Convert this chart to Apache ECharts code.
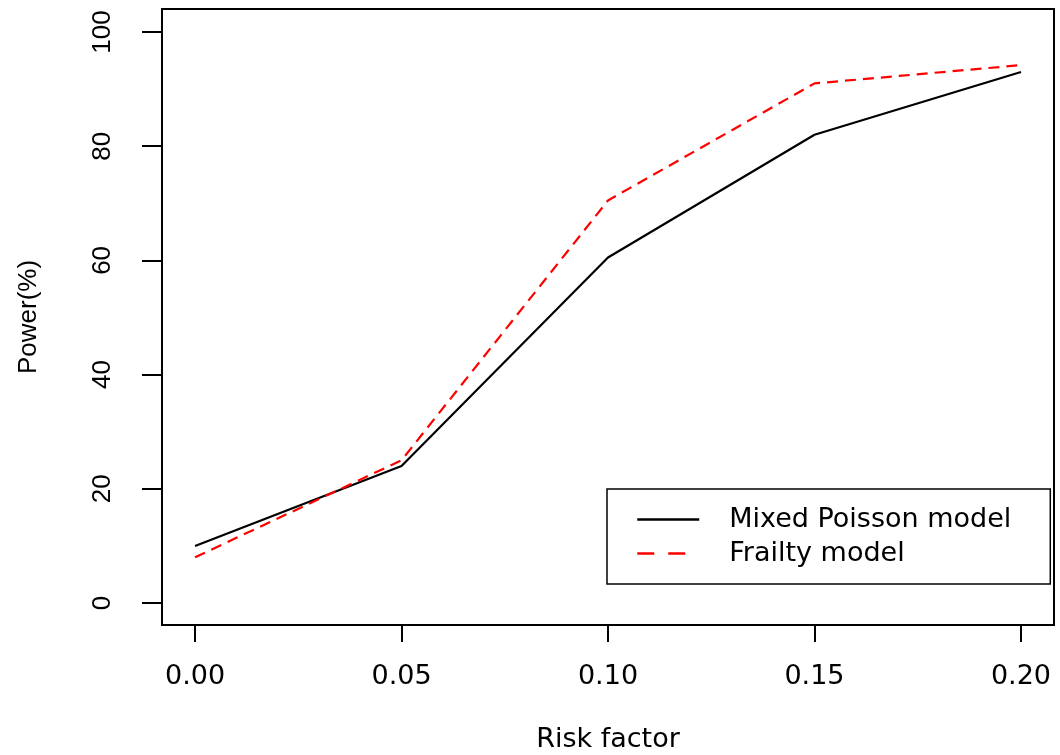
<!DOCTYPE html>
<html>
<head>
<meta charset="utf-8">
<script src="https://cdn.jsdelivr.net/npm/echarts@6/dist/echarts.min.js"></script>
<style>html,body{margin:0;padding:0;background:#fff;}#c{width:1060px;height:755px;}</style>
</head>
<body>
<div id="c"></div>
<script>
const riskFactor = [0.00, 0.05, 0.10, 0.15, 0.20];
const mixedPoisson = [10, 24, 60.5, 82, 93];
const frailty = [8, 25, 70.5, 91, 94.2];
const xTicks = [0.00, 0.05, 0.10, 0.15, 0.20];
const yTicks = [0, 20, 40, 60, 80, 100];
const seriesNames = ['Mixed Poisson model', 'Frailty model'];

const hFont = 'DejaVu Sans';
const vFont = 'Liberation Sans';

const chart = echarts.init(document.getElementById('c'));
chart.setOption({
  animation: false,
  backgroundColor: '#fff',
  grid: {left: 162, right: 6, top: 9, bottom: 130, containLabel: false, outerBoundsMode: 'none',
    show: true, borderColor: '#000', borderWidth: 2, backgroundColor: 'transparent'},
  xAxis: {
    type: 'value', min: -0.008, max: 0.208,
    name: 'Risk factor', nameLocation: 'middle', nameGap: 101,
    nameTextStyle: {fontFamily: hFont, fontSize: 27, color: '#000'},
    axisLine: {show: false, onZero: false},
    splitLine: {show: false},
    axisTick: {show: true, length: 17, inside: false, customValues: xTicks, lineStyle: {color: '#000', width: 2}},
    axisLabel: {customValues: xTicks, margin: 38, fontFamily: hFont, fontSize: 27, color: '#000',
      formatter: v => v.toFixed(2)}
  },
  yAxis: {
    type: 'value', min: -3.85, max: 104.03,
    name: 'Power(%)', nameLocation: 'middle', nameGap: 120, nameRotate: 90,
    nameTextStyle: {fontFamily: vFont, fontSize: 26, color: '#000'},
    axisLine: {show: false, onZero: false},
    splitLine: {show: false},
    axisTick: {show: true, length: 20, customValues: yTicks, lineStyle: {color: '#000', width: 2}},
    axisLabel: {customValues: yTicks, rotate: 90, margin: 46, fontFamily: vFont, fontSize: 26, color: '#000'}
  },
  legend: {
    show: true,
    left: 607, top: 489,
    orient: 'vertical',
    backgroundColor: '#fff',
    borderColor: '#000', borderWidth: 1.5,
    padding: [17, 39, 17, 29],
    itemWidth: 62, itemHeight: 24, itemGap: 7,
    textStyle: {fontFamily: hFont, fontSize: 27, color: '#000', padding: [0, 0, 0, 25]},
    data: [
      {name: seriesNames[0], itemStyle: {opacity: 0}, lineStyle: {width: 2.5}},
      {name: seriesNames[1], itemStyle: {opacity: 0}, lineStyle: {type: [17, 14], width: 2.5}}
    ]
  },
  series: [
    {name: seriesNames[0], type: 'line', data: riskFactor.map((x, i) => [x, mixedPoisson[i]]),
      symbol: 'none', lineStyle: {color: '#000', width: 2.2, type: 'solid'}, itemStyle: {color: '#000'}},
    {name: seriesNames[1], type: 'line', data: riskFactor.map((x, i) => [x, frailty[i]]),
      symbol: 'none', lineStyle: {color: '#ff0000', width: 2.2, type: [11, 7]}, itemStyle: {color: '#ff0000'}}
  ]
});
</script>
</body>
</html>
